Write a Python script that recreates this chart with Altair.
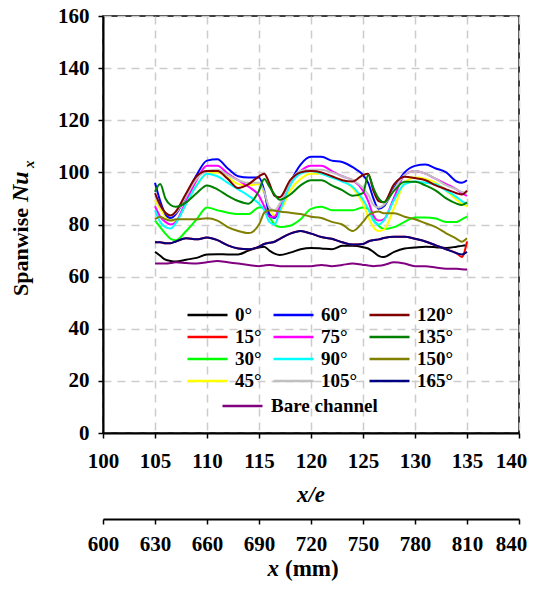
import altair as alt
import pandas as pd

FONT = "Liberation Serif"

# x/e positions shared by all series
xs = [105, 105.5, 106, 106.5, 107,
      108, 109, 110, 111, 112, 113, 114, 115,
      115.5, 116, 116.5, 117,
      118, 119, 120, 121, 122, 123, 124, 125,
      125.5, 126, 126.5, 127,
      128, 129, 130, 131, 132, 133, 134,
      134.5, 135]

nu_0 = [69.5, 68, 66.5, 66, 65.8,
        66.5, 67.2, 68.5, 68.6, 68.5, 68.5, 70, 71.2,
        71.5, 70, 68.8, 68.3,
        69.2, 70.5, 71, 70.8, 70.5, 71.8, 71.8, 71.3,
        70.8, 69.5, 68, 67.5,
        69.5, 70.8, 71.2, 71.5, 71.3, 71, 71.5,
        71.8, 72]
nu_15 = [73.2, 73.2, 72.8, 72.8, 73.5,
         74.7, 74.3, 75, 74, 72, 70.8, 70.5, 71.5,
         72.5, 73, 73.4, 74.5,
         76.5, 77.5, 76.5, 75.2, 74.5, 73.2, 72.3, 72.5,
         73.5, 74, 74.3, 74.8,
         75.3, 75.3, 74.5, 73.5, 72, 70.5, 69,
         67.5, 73.5]
nu_30 = [81.5, 79, 76.5, 74.5, 74,
         77.5, 82, 86.5, 85.5, 84.5, 84, 84, 86.5,
         86.5, 83, 80, 79,
         79.5, 82, 86, 86.8, 85.5, 85.5, 85.5, 86.5,
         86, 82, 79.5, 78.3,
         79, 81, 82.7, 82.7, 82.3, 81, 81,
         82, 83]
nu_45 = [89.5, 86, 83, 81.5, 81.5,
         88, 95, 99.5, 100, 98, 95.5, 95, 95.5,
         92, 86, 83.5, 85,
         93, 97.5, 99.5, 99.5, 98, 97, 94, 88,
         83, 79, 77.5, 78,
         86.5, 96, 98, 97.5, 96, 93, 89.5,
         88, 87]
nu_60 = [96, 89, 84, 82.5, 84,
         91, 99, 104.5, 105, 101.5, 98.5, 98, 98,
         93, 84, 82.5, 86,
         96, 103, 106, 106, 104.5, 104, 102, 99,
         96, 90, 86, 87,
         94, 100, 102.5, 103, 101.5, 100, 96.5,
         96, 97]
nu_75 = [87, 83, 81, 80, 81,
         89, 97, 102.5, 102.5, 99.5, 97, 94.5, 91,
         87, 83, 83, 87,
         96, 100.5, 102.5, 102.5, 100.5, 98.5, 97, 93,
         89, 83.5, 81.5, 82,
         90.5, 99, 100.5, 99.5, 97.5, 95.5, 93.5,
         92, 91]
nu_90 = [85.5, 81, 79, 78.5, 80.5,
         88, 95, 99.5, 98.5, 96, 93.5, 91, 88,
         85.5, 81, 80, 85,
         95, 99.5, 100.5, 99.5, 98, 96.5, 94.5, 89.5,
         86, 81.5, 80, 81.5,
         89.5, 95.5, 96.5, 96, 95.5, 93, 90.5,
         89, 88]
nu_105 = [91, 87, 84.5, 83.5, 84.5,
          91, 97.5, 100.5, 101, 99, 97, 96, 96,
          92.5, 86.5, 85.5, 88,
          96.5, 100.5, 101, 101, 100, 98.5, 97, 94,
          91.5, 87.5, 86.5, 87.5,
          93.5, 99, 100.5, 99.5, 97.5, 95, 93.5,
          92.5, 92]
nu_120 = [92, 87.5, 84.5, 83.5, 85,
          92, 98.5, 100.5, 100.5, 97.5, 94, 95.5, 98.5,
          99.5, 95.8, 91, 90.5,
          97, 100, 100.5, 100, 98.5, 97, 96.5, 99,
          99.5, 93, 89, 88.5,
          95.5, 98.3, 97.8, 97, 95, 93.5, 92,
          91.5, 93]
nu_135 = [92.5, 95.5, 90, 87.5, 86.8,
          88.5, 92, 95, 93.5, 91, 89, 88, 93,
          97.5, 94.5, 91.5, 89.5,
          91.5, 95, 97, 97, 95, 93.2, 91, 92,
          99, 94, 90, 88.5,
          93, 96.4, 96.4, 95, 93, 90, 88,
          87.5, 88.5]
nu_150 = [82, 83, 82, 81.5, 82,
          82, 82, 82.4, 81.5, 79, 77.5, 76.7, 80,
          84.5, 85.5, 85.3, 85,
          84.5, 84, 83, 82.5, 81, 80, 77.5, 81,
          83.5, 84.6, 85, 84.3,
          84.3, 83, 82, 80.5, 79, 76.6, 74.5,
          73.4, 74.7]
nu_165 = [73.2, 73.2, 72.8, 72.8, 73.5,
          74.7, 74.3, 75, 74, 72, 70.8, 70.5, 71.5,
          72.5, 73, 73.4, 74.5,
          76.5, 77.5, 76.5, 75.2, 74.5, 73.2, 72.3, 72.5,
          73.5, 74, 74.3, 74.8,
          75.3, 75.3, 74.5, 73.5, 72, 70.5, 69,
          68.5, 69.5]
nu_bare = [65, 65, 65, 65.2, 65.5,
           65.2, 65, 65.5, 66, 65.5, 65, 64.5, 64,
           64.3, 64.5, 64.3, 64,
           64, 64, 64, 64.5, 64, 64.5, 65, 64.5,
           64.3, 64, 64.2, 64.5,
           65.5, 65, 64, 64, 63.5, 63, 63,
           62.8, 62.7]

FS = "\u2007"  # figure space, used to right-align short legend labels
labels = [FS + "0°", "15°", "30°", "45°", FS + "60°", FS + "75°", FS + "90°",
          "105°", "120°", "135°", "150°", "165°"]
colors = ["#000000", "#ff0000", "#00ff00", "#ffff00", "#0000ff", "#ff00ff",
          "#00ffff", "#c0c0c0", "#800000", "#008000", "#808000", "#000080"]
series = [nu_0, nu_15, nu_30, nu_45, nu_60, nu_75, nu_90, nu_105,
          nu_120, nu_135, nu_150, nu_165]

xe_ticks = list(range(100, 141, 5))
mm_ticks = list(range(600, 841, 30))
y_ticks = list(range(0, 161, 20))

rows = []
for lab, vals in zip(labels, series):
    for x, v in zip(xs, vals):
        rows.append({"xe": x, "nu": v, "s": lab})
df = pd.DataFrame(rows)
df_bare = pd.DataFrame({"xe": xs, "nu": nu_bare, "b": ["Bare channel"] * len(xs)})

label_style = dict(labelFont=FONT, labelFontSize=21, labelFontWeight="bold",
                   labelColor="black", domainColor="black", domainWidth=2,
                   tickColor="black", tickWidth=1.5, tickSize=5)

legend_style = dict(title=None, orient="none", symbolType="stroke", symbolSize=1600,
                    symbolStrokeWidth=2.5, labelFont=FONT, labelFontSize=19,
                    labelFontWeight="bold", labelColor="black", padding=0,
                    clipHeight=22, rowPadding=0)


def edge_shift(last):
    # nudge the right-most label inward so it stays inside the window
    return alt.ConditionalAxisNumber(
        condition={"test": f"datum.value >= {last}", "value": -8}, value=0)


x_enc = alt.X("xe:Q", scale=alt.Scale(domain=[100, 140], nice=False, zero=False),
              axis=alt.Axis(values=xe_ticks, title=None, grid=True, labelPadding=12,
                            labelFlush=False, labelOffset=edge_shift(xe_ticks[-1]),
                            **label_style))
y_enc = alt.Y("nu:Q", scale=alt.Scale(domain=[0, 160], nice=False),
              axis=alt.Axis(values=y_ticks, title=None, grid=True, labelPadding=9,
                            **label_style))

lines = alt.Chart(df).mark_line(strokeWidth=2, interpolate="monotone").encode(
    x=x_enc, y=y_enc,
    color=alt.Color("s:N", scale=alt.Scale(domain=labels, range=colors),
                    legend=alt.Legend(legendX=83, legendY=288, columns=3,
                                      direction="vertical", labelOffset=6,
                                      columnPadding=10, **legend_style)),
)

bare = alt.Chart(df_bare).mark_line(strokeWidth=2, interpolate="monotone").encode(
    x=alt.X("xe:Q", scale=alt.Scale(domain=[100, 140], nice=False, zero=False), axis=None),
    y=alt.Y("nu:Q"),
    color=alt.Color("b:N", scale=alt.Scale(domain=["Bare channel"], range=["#800080"]),
                    legend=alt.Legend(legendX=118, legendY=379, labelOffset=7,
                                      **legend_style)),
)

mm_df = pd.DataFrame({"mm": [mm_ticks[0], mm_ticks[-1]]})
axis2 = alt.Chart(mm_df).mark_rule(opacity=0).encode(
    x=alt.X("mm:Q", scale=alt.Scale(domain=[600, 840], nice=False, zero=False),
            axis=alt.Axis(orient="bottom", offset=86, values=mm_ticks, title=None,
                          grid=False, labelPadding=9, labelFlush=False,
                          labelOffset=edge_shift(mm_ticks[-1]), **label_style)),
)


def txt(s, x, y, size, style="normal", angle=0, align="left"):
    return alt.Chart(pd.DataFrame({"t": [s]})).mark_text(
        font=FONT, fontSize=size, fontWeight="bold", fontStyle=style, angle=angle,
        align=align, baseline="alphabetic", color="black"
    ).encode(text="t:N", x=alt.value(x), y=alt.value(y))


titles = [
    txt("Spanwise", -75, 280, 22, angle=270),
    txt("Nu", -75, 186, 24, style="italic", angle=270),
    txt("x", -69, 152, 15, style="italic", angle=270),
    txt("x/e", 208, 486, 23, style="italic", align="center"),
    txt("x", 176, 560, 23, style="italic", align="right"),
    txt("(mm)", 182, 560, 23),
]

chart = alt.layer(lines, bare, axis2, *titles).resolve_scale(
    x="independent", color="independent"
).properties(
    width=416, height=417,
    autosize=alt.AutoSizeParams(type="none"),
    padding={"left": 95, "top": 8, "right": 10, "bottom": 149},
).configure_view(
    stroke="black", strokeWidth=1.5
).configure_axis(
    gridColor="#cccccc", gridDash=[8, 6], gridWidth=1.5
)

chart.save("out.html", embed_options={"renderer": "svg", "actions": False})
